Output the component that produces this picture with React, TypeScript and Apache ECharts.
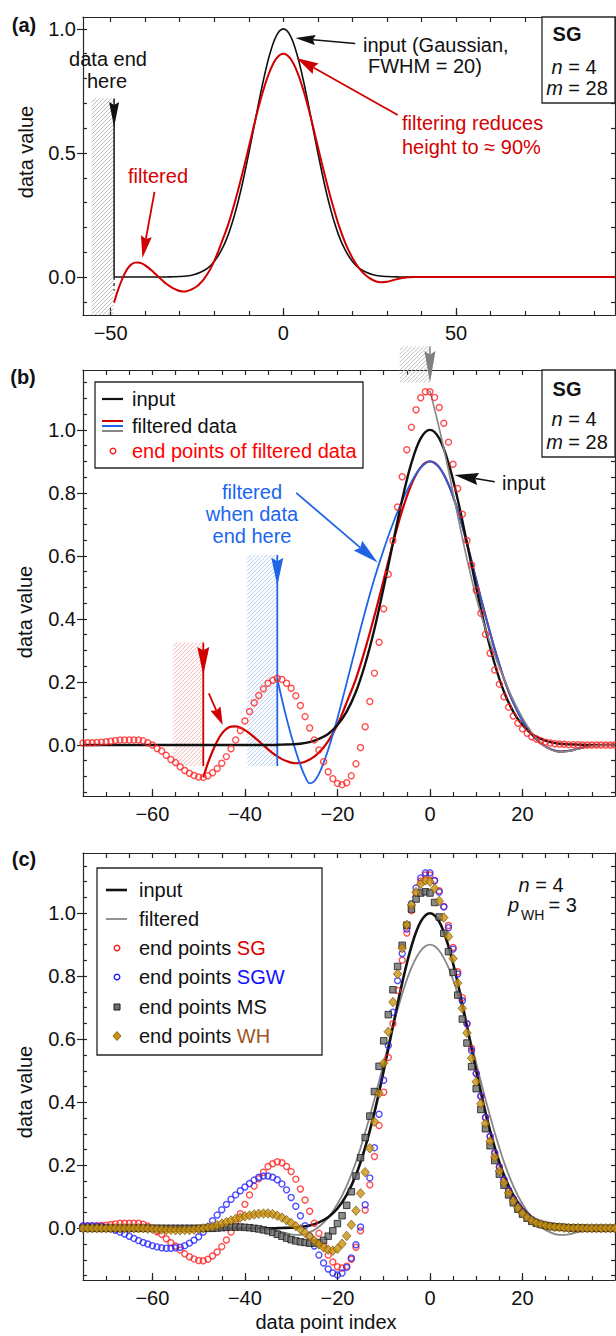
import React, { useEffect, useRef } from 'react';
import * as echarts from 'echarts';

const FONT = "'Liberation Sans', Arial, Helvetica, sans-serif";
const FRAME = '#262626';
const INK = '#111111';
const RED_LINE = '#d10000';
const RED_PT = '#ff2020';
const RED_TEXT = '#d40000';
const BLUE_LINE = '#1f63e6';
const BLUE_TEXT = '#1a66f0';
const BLUE_PT = '#2222ff';
const GREY_LINE = '#878787';
const MS_FILL = '#6e6e6e';
const WH_FILL = '#c9920f';
const WH_TEXT = '#a0541c';

// ---------- data ----------
// input Gaussian (FWHM = 20), sampled every 2 points
const GAUSS_X = [-34, -32, -30, -28, -26, -24, -22, -20, -18, -16, -14, -12, -10, -8, -6, -4, -2, 0, 2, 4, 6, 8, 10, 12, 14, 16, 18, 20, 22, 24, 26, 28, 30, 32, 34];
const GAUSS_Y = [0.000, 0.001, 0.002, 0.004, 0.009, 0.019, 0.035, 0.063, 0.106, 0.169, 0.257, 0.368, 0.500, 0.641, 0.779, 0.895, 0.973, 1.000, 0.973, 0.895, 0.779, 0.641, 0.500, 0.368, 0.257, 0.169, 0.106, 0.063, 0.035, 0.019, 0.009, 0.004, 0.002, 0.001, 0.000];

// filtered (SG, n=4, m=28) far from the data ends
const FILT_X = [-40, -38, -36, -34, -32, -30, -28, -26, -24, -22, -20, -18, -16, -14, -12, -10, -8, -6, -4, -2, 0, 2, 4, 6, 8, 10, 12, 14, 16, 18, 20, 22, 24, 26, 28, 30, 32, 34, 36, 38, 40];
const FILT_Y = [0.000, 0.000, -0.001, -0.005, -0.012, -0.019, -0.021, -0.013, 0.005, 0.034, 0.077, 0.135, 0.210, 0.304, 0.410, 0.524, 0.640, 0.744, 0.827, 0.881, 0.900, 0.881, 0.827, 0.744, 0.640, 0.524, 0.410, 0.304, 0.210, 0.135, 0.077, 0.034, 0.005, -0.013, -0.021, -0.019, -0.012, -0.005, -0.001, 0.000, 0.000];

// filtered data when data end at -49 (left part)
const RED_L_X = [-49, -48, -47, -46, -45, -44, -43, -42, -41, -40, -39, -38, -37, -36, -35, -34, -33, -32, -31, -30, -29, -28, -27, -26, -25, -24, -23, -22, -21, -20, -19, -18, -16, -14, -12, -10, -8, -6, -4, -2];
const RED_L_Y = [-0.103, -0.058, -0.020, 0.012, 0.036, 0.051, 0.058, 0.059, 0.055, 0.047, 0.037, 0.025, 0.012, -0.001, -0.014, -0.026, -0.036, -0.045, -0.051, -0.056, -0.058, -0.057, -0.053, -0.046, -0.037, -0.024, -0.008, 0.012, 0.036, 0.065, 0.098, 0.135, 0.210, 0.304, 0.410, 0.524, 0.640, 0.744, 0.827, 0.881];

// filtered data when data end at -33 (left part)
const BLUE_L_X = [-33, -32, -31, -30, -29, -28, -27, -26, -25, -24, -23, -22, -21, -20, -19, -18, -16, -14, -12, -10, -8, -6, -4, -2];
const BLUE_L_Y = [0.210, 0.145, 0.085, 0.030, -0.020, -0.064, -0.100, -0.122, -0.115, -0.092, -0.057, -0.015, 0.033, 0.085, 0.140, 0.197, 0.312, 0.424, 0.528, 0.620, 0.703, 0.775, 0.835, 0.880];

// filtered data when data end at 0
const GREY_B_X = [0, 1, 2, 3, 4, 5, 6, 7, 8, 10, 12, 14, 16, 18, 20, 22, 24, 26, 28, 30, 32, 34, 36, 38, 40];
const GREY_B_Y = [1.124, 1.065, 1.005, 0.940, 0.872, 0.800, 0.727, 0.657, 0.590, 0.468, 0.368, 0.284, 0.210, 0.143, 0.086, 0.040, 0.006, -0.014, -0.022, -0.020, -0.013, -0.006, -0.002, 0.000, 0.000];

// end points, data point index -75 ... 40
const END_START = -75;
const END_SG = [
  0.006, 0.007, 0.007, 0.008, 0.009, 0.010, 0.012, 0.014, 0.016, 0.016, 0.016, 0.016, 0.016, 0.013, 0.007, 0.000,
  -0.011, -0.019, -0.033, -0.046, -0.056, -0.069, -0.081, -0.090, -0.097, -0.102, -0.103, -0.098, -0.088, -0.075, -0.058, -0.037, -0.012, 0.016, 0.046, 0.076,
  0.106, 0.134, 0.157, 0.178, 0.196, 0.205, 0.211, 0.208, 0.196, 0.180, 0.156, 0.125, 0.090, 0.054, 0.016, -0.016, -0.053, -0.085, -0.107, -0.122,
  -0.126, -0.120, -0.098, -0.060, -0.008, 0.058, 0.138, 0.228, 0.326, 0.432, 0.542, 0.649, 0.755, 0.851, 0.937, 1.008, 1.064, 1.102, 1.121, 1.121,
  1.103, 1.071, 1.021, 0.961, 0.891, 0.814, 0.732, 0.649, 0.571, 0.491, 0.418, 0.351, 0.291, 0.238, 0.193, 0.153, 0.120, 0.092, 0.069, 0.051,
  0.037, 0.026, 0.019, 0.013, 0.009, 0.006, 0.004, 0.003, 0.002, 0.001, 0.001, 0.001, 0.000, 0.000, 0.000, 0.000, 0.000, 0.000, 0.000, 0.000,
];
const END_SGW = [
  0.008, 0.008, 0.008, 0.007, 0.006, 0.003, -0.001, -0.006, -0.012, -0.018, -0.025, -0.032, -0.039, -0.045, -0.050, -0.055,
  -0.059, -0.062, -0.063, -0.063, -0.062, -0.060, -0.055, -0.047, -0.038, -0.027, -0.012, 0.005, 0.024, 0.042, 0.059, 0.076, 0.092, 0.106, 0.119, 0.131,
  0.142, 0.153, 0.162, 0.166, 0.166, 0.162, 0.154, 0.141, 0.122, 0.098, 0.070, 0.040, 0.008, -0.024, -0.056, -0.085, -0.110, -0.129, -0.142, -0.148,
  -0.142, -0.124, -0.094, -0.052, 0.004, 0.075, 0.160, 0.256, 0.362, 0.470, 0.580, 0.686, 0.786, 0.872, 0.950, 1.030, 1.080, 1.112, 1.128, 1.128,
  1.104, 1.067, 1.020, 0.954, 0.886, 0.807, 0.722, 0.649, 0.564, 0.491, 0.420, 0.352, 0.292, 0.240, 0.195, 0.155, 0.122, 0.094, 0.071, 0.053,
  0.039, 0.028, 0.020, 0.014, 0.010, 0.007, 0.005, 0.003, 0.002, 0.001, 0.001, 0.001, 0.000, 0.000, 0.000, 0.000, 0.000, 0.000, 0.000, 0.000,
];
const END_MS = [
  0.000, 0.000, 0.000, 0.000, 0.000, 0.000, 0.000, 0.000, 0.000, 0.000, 0.000, 0.000, 0.000, 0.000, 0.000, 0.000,
  0.000, 0.000, 0.000, 0.000, 0.000, 0.000, 0.000, 0.000, 0.000, 0.000, 0.000, 0.000, 0.000, 0.001, 0.002, 0.003, 0.004, 0.004, 0.004, 0.003,
  0.002, 0.000, -0.002, -0.005, -0.008, -0.013, -0.019, -0.025, -0.031, -0.036, -0.040, -0.043, -0.045, -0.047, -0.047, -0.045, -0.038, -0.025, -0.008, 0.015,
  0.040, 0.073, 0.116, 0.166, 0.224, 0.288, 0.356, 0.434, 0.514, 0.595, 0.678, 0.757, 0.831, 0.898, 0.962, 1.013, 1.045, 1.064, 1.068, 1.064,
  1.034, 0.988, 0.936, 0.878, 0.812, 0.740, 0.664, 0.588, 0.513, 0.443, 0.377, 0.316, 0.262, 0.215, 0.172, 0.137, 0.106, 0.081, 0.061, 0.045,
  0.032, 0.022, 0.016, 0.012, 0.009, 0.007, 0.005, 0.004, 0.003, 0.002, 0.001, 0.001, 0.001, 0.000, 0.000, 0.000, 0.000, 0.000, 0.000, 0.000,
];
const END_WH = [
  0.000, 0.000, 0.000, 0.000, 0.000, 0.000, 0.000, 0.000, 0.000, 0.000, 0.000, 0.000, 0.000, 0.000, -0.001, -0.002,
  -0.003, -0.004, -0.005, -0.005, -0.006, -0.006, -0.005, -0.005, -0.004, -0.002, 0.000, 0.003, 0.006, 0.010, 0.015, 0.020, 0.025, 0.030, 0.034, 0.038,
  0.041, 0.044, 0.046, 0.047, 0.047, 0.045, 0.040, 0.034, 0.026, 0.017, 0.007, -0.003, -0.014, -0.026, -0.039, -0.051, -0.061, -0.068, -0.071, -0.065,
  -0.049, -0.024, 0.011, 0.056, 0.111, 0.178, 0.254, 0.338, 0.428, 0.524, 0.624, 0.718, 0.807, 0.889, 0.963, 1.026, 1.067, 1.093, 1.104, 1.100,
  1.078, 1.039, 0.986, 0.926, 0.856, 0.778, 0.698, 0.620, 0.540, 0.465, 0.395, 0.333, 0.276, 0.226, 0.182, 0.145, 0.113, 0.087, 0.065, 0.048,
  0.035, 0.025, 0.018, 0.013, 0.009, 0.006, 0.004, 0.003, 0.002, 0.001, 0.001, 0.001, 0.000, 0.000, 0.000, 0.000, 0.000, 0.000, 0.000, 0.000,
];

// tick labels
const A_X_LABELS = [-50, 0, 50];
const A_Y_LABELS = [0, 0.5, 1.0];
const BC_X_LABELS = [-60, -40, -20, 0, 20];
const BC_Y_LABELS = [0, 0.2, 0.4, 0.6, 0.8, 1.0];

// ---------- helpers ----------
const range = (a: number, b: number, s: number) => {
  const out: number[] = [];
  for (let v = a; v <= b + 1e-9; v += s) out.push(Math.round(v * 1000) / 1000);
  return out;
};
const pairs = (xs: number[], ys: number[]) => xs.map((x, i) => [x, ys[i]]);
const END_X = END_SG.map((_, i) => END_START + i);

const GRIDS = [
  { left: 83, top: 17, width: 532, height: 298, xMin: -58, xMax: 96, yMin: -0.153, yMax: 1.048,
    xMajor: A_X_LABELS, xMinor: range(-50, 90, 10), yMajor: A_Y_LABELS, yMinor: range(-0.1, 1.0, 0.1) },
  { left: 83, top: 370, width: 532, height: 426, xMin: -75, xMax: 40, yMin: -0.162, yMax: 1.19,
    xMajor: BC_X_LABELS, xMinor: range(-70, 35, 5), yMajor: BC_Y_LABELS, yMinor: range(-0.15, 1.15, 0.05) },
  { left: 83, top: 853, width: 532, height: 427, xMin: -75, xMax: 40, yMin: -0.164, yMax: 1.191,
    xMajor: BC_X_LABELS, xMinor: range(-70, 35, 5), yMajor: BC_Y_LABELS, yMinor: range(-0.15, 1.15, 0.05) },
];

const fmtX = (v: number) => (v < 0 ? '\u2212' + Math.abs(v) : String(v));
const fmtY = (v: number) => Number(v).toFixed(1);
const frameLine = { lineStyle: { color: FRAME, width: 1.2 } };

function buildAxes() {
  const xAxis: any[] = [];
  const yAxis: any[] = [];
  GRIDS.forEach((g, gi) => {
    const base = { gridIndex: gi, type: 'value', min: g.xMin, max: g.xMax, splitLine: { show: false } };
    xAxis.push({ ...base, position: 'bottom',
      axisLine: { show: true, onZero: false, ...frameLine },
      axisTick: { show: true, inside: true, length: 7, customValues: g.xMajor, ...frameLine },
      axisLabel: { show: true, customValues: g.xMajor, formatter: fmtX, fontSize: 20, fontFamily: FONT, color: INK, margin: 8 } });
    xAxis.push({ ...base, position: 'bottom',
      axisLine: { show: false, onZero: false },
      axisTick: { show: true, inside: true, length: 4, customValues: g.xMinor, ...frameLine },
      axisLabel: { show: false } });
    xAxis.push({ ...base, position: 'top',
      axisLine: { show: true, onZero: false, ...frameLine },
      axisTick: { show: true, inside: true, length: 5, customValues: g.xMinor, ...frameLine },
      axisLabel: { show: false } });
    const ybase = { gridIndex: gi, type: 'value', min: g.yMin, max: g.yMax, splitLine: { show: false } };
    yAxis.push({ ...ybase, position: 'left',
      axisLine: { show: true, onZero: false, ...frameLine },
      axisTick: { show: true, inside: false, length: 6, customValues: g.yMajor, ...frameLine },
      axisLabel: { show: true, customValues: g.yMajor, formatter: fmtY, fontSize: 20, fontFamily: FONT, color: INK, margin: 7 } });
    yAxis.push({ ...ybase, position: 'left',
      axisLine: { show: false, onZero: false },
      axisTick: { show: true, inside: true, length: 4, customValues: g.yMinor, ...frameLine },
      axisLabel: { show: false } });
    yAxis.push({ ...ybase, position: 'right',
      axisLine: { show: true, onZero: false, ...frameLine },
      axisTick: { show: true, inside: true, length: 4, customValues: g.yMinor, ...frameLine },
      axisLabel: { show: false } });
  });
  return { xAxis, yAxis };
}

function lineS(gi: number, data: number[][], color: string, width: number, z: number) {
  return { type: 'line', xAxisIndex: gi * 3, yAxisIndex: gi * 3, data, showSymbol: false, symbol: 'none',
    smooth: 0.35, lineStyle: { color, width }, z, silent: true, animation: false };
}
function scatS(gi: number, data: number[][], symbol: string, size: any, itemStyle: any, z: number) {
  return { type: 'scatter', xAxisIndex: gi * 3, yAxisIndex: gi * 3, data, symbol, symbolSize: size,
    itemStyle, z, silent: true, animation: false };
}

function buildOption() {
  const { xAxis, yAxis } = buildAxes();
  const gauss = pairs(GAUSS_X, GAUSS_Y);
  const filt = pairs(FILT_X, FILT_Y);
  const filtRight = filt.filter((p) => p[0] >= 0);
  const redL = pairs(RED_L_X, RED_L_Y);
  const blueL = pairs(BLUE_L_X, BLUE_L_Y);
  const greyB = pairs(GREY_B_X, GREY_B_Y);
  const endSG = pairs(END_X, END_SG);
  const endSGW = pairs(END_X, END_SGW);
  const endMS = pairs(END_X, END_MS);
  const endWH = pairs(END_X, END_WH);
  const hollow = (c: string) => ({ color: 'rgba(0,0,0,0)', borderColor: c, borderWidth: 1.4 });

  const series: any[] = [
    // (a)
    lineS(0, [[-49, 0], ...gauss, [96, 0]], INK, 1.6, 3),
    lineS(0, [...redL, ...filtRight, [96, 0]], RED_LINE, 2, 4),
    // (b)
    lineS(1, [...redL, ...filtRight], RED_LINE, 2.2, 3),
    lineS(1, [...blueL, ...filtRight], BLUE_LINE, 1.8, 4),
    lineS(1, [[-75, 0], ...gauss, [40, 0]], INK, 2.4, 5),
    lineS(1, greyB, GREY_LINE, 1.6, 6),
    scatS(1, endSG, 'circle', 6, hollow(RED_PT), 7),
    // (c)
    lineS(2, [[-75, 0], ...filt], GREY_LINE, 1.8, 3),
    lineS(2, [[-75, 0], ...gauss, [40, 0]], INK, 2.6, 4),
    scatS(2, endSG, 'circle', 6, hollow(RED_PT), 5),
    scatS(2, endSGW, 'circle', 6, hollow(BLUE_PT), 6),
    scatS(2, endMS, 'rect', 6.5, { color: MS_FILL, borderColor: '#1a1a1a', borderWidth: 1 }, 7),
    scatS(2, endWH, 'diamond', [8.5, 9.5], { color: WH_FILL, borderColor: '#6b4a00', borderWidth: 0.8 }, 8),
  ];

  return {
    animation: false,
    backgroundColor: '#ffffff',
    textStyle: { fontFamily: FONT },
    grid: GRIDS.map((g) => ({ left: g.left, top: g.top, width: g.width, height: g.height, containLabel: false })),
    xAxis, yAxis, series,
  };
}

function buildGraphic(chart: any) {
  const px = (gi: number, x: number, y: number) =>
    chart.convertToPixel({ xAxisIndex: gi * 3, yAxisIndex: gi * 3 }, [x, y]) as number[];
  const els: any[] = [];

  const hatch = (gi: number, x0: number, x1: number, y0: number, y1: number, color: string) => {
    const [L, B] = px(gi, x0, y0);
    const [R, T] = px(gi, x1, y1);
    for (let k = L + T; k <= R + B; k += 4) {
      const xa = Math.max(L, k - B);
      const xb = Math.min(R, k - T);
      if (xb > xa) els.push({ type: 'line', z: 1, silent: true,
        shape: { x1: xa, y1: k - xa, x2: xb, y2: k - xb }, style: { stroke: color, lineWidth: 0.9 } });
    }
  };
  const seg = (gi: number, x0: number, y0: number, x1: number, y1: number, color: string, w: number, dash?: number[]) => {
    const [ax, ay] = px(gi, x0, y0);
    const [bx, by] = px(gi, x1, y1);
    els.push({ type: 'line', z: 5, silent: true, shape: { x1: ax, y1: ay, x2: bx, y2: by },
      style: { stroke: color, lineWidth: w, lineDash: dash } });
  };
  const arrow = (gi: number, x0: number, y0: number, x1: number, y1: number, color: string, w: number,
    hl: number, hw: number, drawLine = true) => {
    const [ax, ay] = px(gi, x0, y0);
    const [bx, by] = px(gi, x1, y1);
    const dx = bx - ax, dy = by - ay;
    const d = Math.hypot(dx, dy) || 1;
    const ux = dx / d, uy = dy / d;
    const nx = -uy, ny = ux;
    const baseX = bx - ux * hl, baseY = by - uy * hl;
    const notch = hl * 0.12;
    if (drawLine) els.push({ type: 'line', z: 5, silent: true,
      shape: { x1: ax, y1: ay, x2: baseX + ux * notch, y2: baseY + uy * notch }, style: { stroke: color, lineWidth: w } });
    els.push({ type: 'polygon', z: 6, silent: true,
      shape: { points: [[bx, by], [baseX + nx * hw / 2, baseY + ny * hw / 2], [baseX + ux * notch, baseY + uy * notch], [baseX - nx * hw / 2, baseY - ny * hw / 2]] },
      style: { fill: color } });
  };
  const text = (x: number, y: number, t: string, o: any = {}) => {
    els.push({ type: 'text', x, y, z: o.z ?? 10, rotation: o.rotation ?? 0, silent: true,
      style: { text: t, fontFamily: FONT, fontSize: o.size ?? 20, fontWeight: o.weight ?? 'normal',
        fontStyle: o.style ?? 'normal', fill: o.color ?? INK, align: o.align ?? 'center',
        verticalAlign: 'middle', rich: o.rich } });
  };
  const rich = (extra: any = {}) => ({
    i: { fontStyle: 'italic', fontSize: 20, fontFamily: FONT, fill: INK },
    k: { fontSize: 20, fontFamily: FONT, fill: INK },
    ...extra,
  });
  const box = (x: number, y: number, w: number, h: number) => {
    els.push({ type: 'rect', z: 20, silent: true, shape: { x, y, width: w, height: h },
      style: { fill: '#ffffff', stroke: FRAME, lineWidth: 1.3 } });
  };
  const sgBox = (top: number, h: number, y1: number, y2: number, y3: number) => {
    box(542, top, 73, h);
    text(567, y1, 'SG', { weight: 'bold', z: 21 });
    text(574, y2, '{i|n} = 4', { z: 21, rich: rich() });
    text(577, y3, '{i|m} = 28', { z: 21, rich: rich() });
  };

  // ----- panel (a) -----
  hatch(0, -55.5, -49.2, -0.153, 0.72, '#b4b4b4');
  seg(0, -49, 0.72, -49, 0.0, INK, 1.5);
  seg(0, -49, 0.0, -49, -0.055, INK, 1.2, [3, 3]);
  arrow(0, -49, 0.72, -49, 0.605, INK, 1.5, 25, 10, false);
  arrow(0, 20.8, 0.941, 3.47, 0.963, INK, 1.5, 20, 10);
  arrow(0, 33.1, 0.653, 3.8, 0.883, RED_LINE, 1.8, 22, 12);
  arrow(0, -37.3, 0.343, -40.8, 0.077, RED_LINE, 1.8, 22, 11);
  text(24, 25, '(a)', { weight: 'bold' });
  text(108, 59, 'data end');
  text(107, 81, 'here');
  text(158, 176, 'filtered', { color: RED_TEXT });
  text(363, 45, 'input (Gaussian,', { align: 'left' });
  text(368, 66, 'FWHM = 20)', { align: 'left' });
  text(402, 123, 'filtering reduces', { align: 'left', color: RED_TEXT });
  text(402, 147, 'height to \u2248 90%', { align: 'left', color: RED_TEXT });
  text(26, 152, 'data value', { rotation: Math.PI / 2 });
  sgBox(17, 86, 34, 67, 88);

  // ----- panel (b) -----
  hatch(1, -55.5, -49.2, -0.067, 0.325, '#f0a8a8');
  hatch(1, -39.5, -33.2, -0.067, 0.603, '#a9c5f2');
  hatch(1, -6.5, -0.2, 1.149, 1.265, '#b8b8b8');
  seg(1, -49, 0.325, -49, -0.067, RED_LINE, 1.8);
  arrow(1, -49, 0.325, -49, 0.222, RED_LINE, 1.8, 28, 12, false);
  seg(1, -33, 0.603, -33, -0.067, BLUE_LINE, 1.8);
  arrow(1, -33, 0.603, -33, 0.505, BLUE_LINE, 1.8, 28, 12, false);
  seg(1, 0, 1.265, 0, 1.2, '#808080', 1.5);
  arrow(1, 0, 1.265, 0, 1.149, '#808080', 1.5, 32, 11, false);
  arrow(1, -47.8, 0.164, -44.8, 0.063, RED_LINE, 1.8, 18, 11);
  arrow(1, -28.9, 0.80, -11.3, 0.579, BLUE_LINE, 1.8, 26, 13);
  arrow(1, 14, 0.835, 5.3, 0.857, INK, 1.5, 24, 12);
  text(23, 377, '(b)', { weight: 'bold' });
  text(252, 492, 'filtered', { color: BLUE_TEXT });
  text(252, 514, 'when data', { color: BLUE_TEXT });
  text(252, 536, 'end here', { color: BLUE_TEXT });
  text(502, 483, 'input', { align: 'left' });
  text(25, 612, 'data value', { rotation: Math.PI / 2 });
  sgBox(370, 87, 389, 419, 442);
  // legend (b)
  box(95, 382, 268, 86);
  const lgLine = (x1: number, x2: number, y: number, c: string, w: number) =>
    els.push({ type: 'line', z: 21, silent: true, shape: { x1, y1: y, x2, y2: y }, style: { stroke: c, lineWidth: w } });
  lgLine(102, 123, 399, INK, 2.2);
  text(132, 399, 'input', { align: 'left', z: 21 });
  lgLine(102, 123, 421, RED_LINE, 2);
  lgLine(102, 123, 426, BLUE_LINE, 2);
  lgLine(102, 123, 431, GREY_LINE, 2);
  text(132, 426, 'filtered data', { align: 'left', z: 21 });
  els.push({ type: 'circle', z: 21, silent: true, shape: { cx: 113, cy: 451, r: 2.8 }, style: { fill: 'none', stroke: RED_PT, lineWidth: 1.4 } });
  text(132, 451, 'end points of filtered data', { align: 'left', z: 21, color: '#ff0000' });

  // ----- panel (c) -----
  text(24, 859, '(c)', { weight: 'bold' });
  text(541, 885, '{i|n} = 4', { rich: rich() });
  text(508, 905, 'p', { align: 'left', style: 'italic' });
  text(521, 915, 'WH', { align: 'left', size: 14 });
  text(543, 905, ' = 3', { align: 'left' });
  text(25, 1092, 'data value', { rotation: Math.PI / 2 });
  text(326, 1322, 'data point index');
  box(97, 868, 225, 187);
  lgLine(106, 127, 890, INK, 2.6);
  text(139, 890, 'input', { align: 'left', z: 21 });
  lgLine(106, 127, 919, GREY_LINE, 1.8);
  text(139, 919, 'filtered', { align: 'left', z: 21 });
  els.push({ type: 'circle', z: 21, silent: true, shape: { cx: 117, cy: 948, r: 2.8 }, style: { fill: 'none', stroke: RED_PT, lineWidth: 1.4 } });
  text(139, 948, '{k|end points }{r|SG}', { align: 'left', z: 21, rich: rich({ r: { fontSize: 20, fontFamily: FONT, fill: '#e00000' } }) });
  els.push({ type: 'circle', z: 21, silent: true, shape: { cx: 117, cy: 977, r: 2.8 }, style: { fill: 'none', stroke: BLUE_PT, lineWidth: 1.4 } });
  text(139, 977, '{k|end points }{b|SGW}', { align: 'left', z: 21, rich: rich({ b: { fontSize: 20, fontFamily: FONT, fill: '#1010ff' } }) });
  els.push({ type: 'rect', z: 21, silent: true, shape: { x: 114, y: 1004, width: 6, height: 6 }, style: { fill: MS_FILL, stroke: '#1a1a1a', lineWidth: 1 } });
  text(139, 1007, 'end points MS', { align: 'left', z: 21 });
  els.push({ type: 'polygon', z: 21, silent: true, shape: { points: [[117, 1031.5], [121, 1036], [117, 1040.5], [113, 1036]] }, style: { fill: WH_FILL, stroke: '#6b4a00', lineWidth: 0.8 } });
  text(139, 1036, '{k|end points }{w|WH}', { align: 'left', z: 21, rich: rich({ w: { fontSize: 20, fontFamily: FONT, fill: WH_TEXT } }) });

  return els;
}

export default function App() {
  const ref = useRef<HTMLDivElement>(null);
  useEffect(() => {
    const el = ref.current;
    if (!el) return;
    const chart = echarts.init(el, undefined, { renderer: 'svg', width: 616, height: 1336 });
    chart.setOption(buildOption() as any);
    chart.setOption({ graphic: { elements: buildGraphic(chart) } } as any);
    return () => chart.dispose();
  }, []);
  return (
    <div ref={ref} style={{ position: 'absolute', left: 0, top: 0, width: 616, height: 1336, background: '#fff' }} />
  );
}
